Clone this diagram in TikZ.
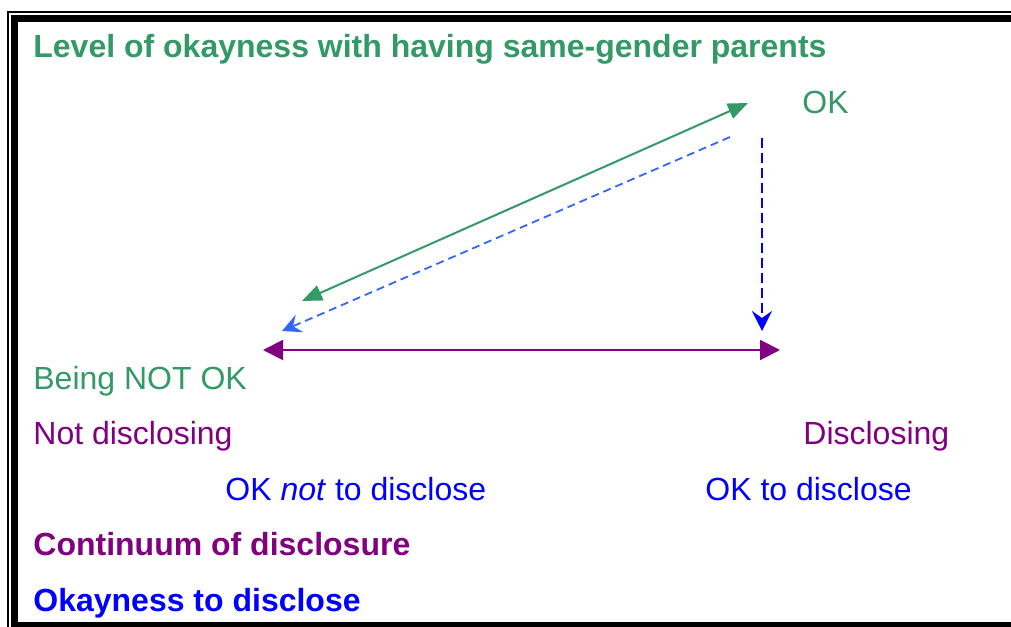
\documentclass[tikz,border=0pt]{standalone}
\usepackage{fontspec}
\setmainfont{Liberation Sans}
\usepackage{xcolor}
\usepackage{tikz}
\usetikzlibrary{arrows.meta,positioning,calc}
\definecolor{okgreen}{HTML}{339966}
\definecolor{discpurple}{HTML}{800080}
\definecolor{okblue}{HTML}{0000FF}
\definecolor{paleblue}{HTML}{3366FF}

\begin{document}
\begin{tikzpicture}[x=0.5pt,y=-0.5pt,
  every node/.style={inner sep=0pt,anchor=base west,font=\fontsize{16}{19}\selectfont},
  heading/.style={font=\fontsize{16}{19}\selectfont\bfseries},
  greenarrow/.style={okgreen,line width=1pt,{Triangle[length=10pt,width=8pt]}-{Triangle[length=10pt,width=8pt]}},
  discarrow/.style={discpurple,line width=1pt,{Triangle[length=10pt,width=10pt]}-{Triangle[length=10pt,width=10pt]}},
  okdash/.style={okblue,line width=1pt,dash pattern=on 5pt off 2.5pt,-{Stealth[length=10pt,width=10pt,inset=3.5pt]}},
  paledash/.style={paleblue,line width=0.9pt,dash pattern=on 4pt off 2.5pt,-{Stealth[length=9.5pt,width=9.5pt,inset=3.5pt]}}]
  \useasboundingbox (0,0) rectangle (1011,626);
  \clip (0,0) rectangle (1011,626);
  % Double frame, running off the right and bottom edges
  \draw[line width=1pt] (8,12) rectangle (1040,650);
  \draw[line width=3.5pt] (14.5,18.5) rectangle (1030,625.5);
  % Headings and labels
  \node[heading,okgreen] (title) at (33,58) {Level of okayness with having same-gender parents};
  \node[okgreen] (ok) at (802,113) {OK};
  \node[okgreen] (notok) at (33,389) {Being NOT OK};
  \node[discpurple] (notdisc) at (33,444) {Not disclosing};
  \node[discpurple] (disc) at (803,444) {Disclosing};
  \node[okblue] (oknot) at (225,500) {OK \textit{not} to disclose};
  \node[okblue] (okto) at (705,500) {OK to disclose};
  \node[heading,discpurple] (continuum) at (33,555) {Continuum of disclosure};
  \node[heading,okblue] (okayness) at (33,611) {Okayness to disclose};
  % Arrow ends
  \coordinate (greenlow) at (302,301);
  \coordinate (greenhigh) at (748,103);
  \coordinate (palestart) at (730,137);
  \coordinate (paleend) at (282,331);
  \coordinate (downstart) at (762,138);
  \coordinate (downend) at (762,331);
  \coordinate (discleft) at (263,350);
  \coordinate (discright) at (780,350);
  % Connectors
  \draw[greenarrow] (greenlow) -- (greenhigh);
  \draw[paledash] (palestart) -- (paleend);
  \draw[okdash] (downstart) -- (downend);
  \draw[discarrow] (discleft) -- (discright);
\end{tikzpicture}
\end{document}
